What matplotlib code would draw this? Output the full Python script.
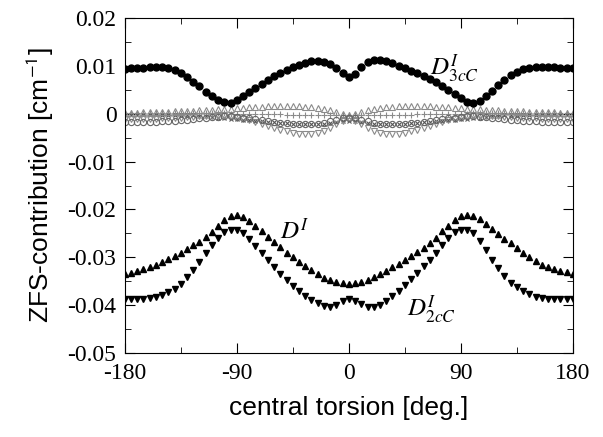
import numpy as np
import matplotlib as mpl
mpl.use('Agg')
import matplotlib.pyplot as plt
from matplotlib.ticker import MultipleLocator

mpl.rcParams['mathtext.fontset'] = 'stix'

# central torsion, 5 degree steps
torsion = np.arange(-180, 181, 5)

d3cc = [
	0.0093, 0.0095, 0.0095, 0.0096, 0.0097, 0.0098, 0.0097, 0.0095, 0.0091, 0.0085,
	0.0077, 0.0067, 0.0057, 0.0046, 0.0036, 0.0029, 0.0024, 0.0023, 0.0028, 0.0036,
	0.0045, 0.0054, 0.0063, 0.0071, 0.0078, 0.0085, 0.0091, 0.0097, 0.0102, 0.0106,
	0.0109, 0.0110, 0.0108, 0.0103, 0.0095, 0.0084, 0.0076,
	0.0083, 0.0097, 0.0107, 0.0112, 0.0112, 0.0109, 0.0105, 0.0100, 0.0095, 0.0090,
	0.0085, 0.0079, 0.0073, 0.0066, 0.0058, 0.0050, 0.0041, 0.0032, 0.0025, 0.0023,
	0.0027, 0.0036, 0.0048, 0.0060, 0.0071, 0.0080, 0.0088, 0.0093, 0.0096, 0.0098,
	0.0098, 0.0098, 0.0097, 0.0096, 0.0095, 0.0095,
]
d_total = [
	-0.0334, -0.0332, -0.0328, -0.0325, -0.0321, -0.0316, -0.0310, -0.0304, -0.0297, -0.0290,
	-0.0283, -0.0275, -0.0267, -0.0258, -0.0247, -0.0235, -0.0223, -0.0213, -0.0211, -0.0215,
	-0.0224, -0.0234, -0.0246, -0.0257, -0.0268, -0.0279, -0.0290, -0.0300, -0.0310, -0.0318,
	-0.0327, -0.0335, -0.0343, -0.0347, -0.0351, -0.0354, -0.0356,
	-0.0354, -0.0351, -0.0347, -0.0342, -0.0335, -0.0328, -0.0321, -0.0313, -0.0305, -0.0297,
	-0.0289, -0.0280, -0.0270, -0.0259, -0.0246, -0.0234, -0.0223, -0.0214, -0.0211, -0.0213,
	-0.0220, -0.0230, -0.0241, -0.0251, -0.0261, -0.0271, -0.0281, -0.0291, -0.0300, -0.0308,
	-0.0315, -0.0321, -0.0325, -0.0328, -0.0331, -0.0334,
]
d2cc = [
	-0.0388, -0.0388, -0.0388, -0.0387, -0.0385, -0.0382, -0.0378, -0.0373, -0.0366, -0.0356,
	-0.0342, -0.0326, -0.0310, -0.0292, -0.0275, -0.0259, -0.0248, -0.0243, -0.0243, -0.0250,
	-0.0262, -0.0277, -0.0291, -0.0306, -0.0321, -0.0335, -0.0348, -0.0360, -0.0371, -0.0381,
	-0.0389, -0.0396, -0.0401, -0.0403, -0.0400, -0.0392, -0.0386,
	-0.0392, -0.0398, -0.0403, -0.0403, -0.0400, -0.0391, -0.0381, -0.0370, -0.0358, -0.0346,
	-0.0333, -0.0319, -0.0305, -0.0290, -0.0274, -0.0260, -0.0248, -0.0243, -0.0243, -0.0250,
	-0.0265, -0.0285, -0.0305, -0.0323, -0.0340, -0.0353, -0.0363, -0.0371, -0.0377, -0.0382,
	-0.0385, -0.0387, -0.0388, -0.0388, -0.0388, -0.0388,
]

# small contributions near zero
small_circ = [
	-0.0018, -0.0018, -0.0018, -0.0018, -0.0017, -0.0017, -0.0016, -0.0016, -0.0015, -0.0014,
	-0.0013, -0.0012, -0.0010, -0.0009, -0.0007, -0.0006, -0.0005, -0.0005, -0.0006, -0.0008,
	-0.0010, -0.0012, -0.0014, -0.0016, -0.0018, -0.0019, -0.0020, -0.0021, -0.0022, -0.0022,
	-0.0022, -0.0021, -0.0019, -0.0016, -0.0013, -0.0010, -0.0009,
	-0.0010, -0.0013, -0.0016, -0.0019, -0.0021, -0.0022, -0.0022, -0.0022, -0.0021, -0.0020,
	-0.0019, -0.0018, -0.0016, -0.0014, -0.0012, -0.0010, -0.0008, -0.0006, -0.0005, -0.0005,
	-0.0006, -0.0007, -0.0009, -0.0010, -0.0012, -0.0013, -0.0014, -0.0015, -0.0016, -0.0016,
	-0.0017, -0.0017, -0.0018, -0.0018, -0.0018, -0.0018,
]
small_down = [
	-0.0012, -0.0012, -0.0012, -0.0012, -0.0011, -0.0011, -0.0010, -0.0010, -0.0009, -0.0008,
	-0.0007, -0.0006, -0.0005, -0.0004, -0.0004, -0.0004, -0.0005, -0.0006, -0.0008, -0.0011,
	-0.0014, -0.0018, -0.0022, -0.0026, -0.0030, -0.0034, -0.0037, -0.0040, -0.0042, -0.0043,
	-0.0043, -0.0041, -0.0037, -0.0030, -0.0022, -0.0015, -0.0012,
	-0.0015, -0.0022, -0.0030, -0.0037, -0.0041, -0.0043, -0.0043, -0.0042, -0.0040, -0.0037,
	-0.0034, -0.0030, -0.0026, -0.0022, -0.0018, -0.0014, -0.0011, -0.0008, -0.0006, -0.0005,
	-0.0004, -0.0004, -0.0004, -0.0005, -0.0006, -0.0007, -0.0008, -0.0009, -0.0010, -0.0010,
	-0.0011, -0.0011, -0.0012, -0.0012, -0.0012, -0.0012,
]
small_up = [
	0.0002, 0.0002, 0.0002, 0.0003, 0.0003, 0.0003, 0.0004, 0.0004, 0.0005, 0.0005,
	0.0006, 0.0006, 0.0007, 0.0007, 0.0008, 0.0009, 0.0010, 0.0010, 0.0011, 0.0012,
	0.0013, 0.0014, 0.0015, 0.0016, 0.0016, 0.0017, 0.0017, 0.0017, 0.0016, 0.0015,
	0.0014, 0.0012, 0.0010, 0.0007, 0.0003, -0.0001, -0.0003,
	-0.0001, 0.0003, 0.0007, 0.0010, 0.0012, 0.0014, 0.0015, 0.0016, 0.0017, 0.0017,
	0.0017, 0.0016, 0.0016, 0.0015, 0.0014, 0.0013, 0.0012, 0.0011, 0.0010, 0.0010,
	0.0009, 0.0008, 0.0007, 0.0007, 0.0006, 0.0006, 0.0005, 0.0005, 0.0004, 0.0004,
	0.0003, 0.0003, 0.0003, 0.0002, 0.0002, 0.0002,
]
small_plus = [
	0.0001, 0.0001, 0.0001, 0.0001, 0.0001, 0.0001, 0.0001, 0.0001, 0.0001, 0.0001,
	0.0001, 0.0001, 0.0001, 0.0001, 0.0001, 0.0001, 0.0001, 0.0000, 0.0000, 0.0000,
	0.0000, 0.0000, 0.0000, 0.0000, 0.0000, -0.0001, -0.0002, -0.0002, -0.0002, -0.0002,
	-0.0002, -0.0002, -0.0002, -0.0003, -0.0003, -0.0003, -0.0003,
	-0.0003, -0.0003, -0.0003, -0.0002, -0.0002, -0.0002, -0.0002, -0.0002, -0.0002, -0.0002,
	-0.0001, 0.0000, 0.0000, 0.0000, 0.0000, 0.0000, 0.0000, 0.0000, 0.0000, 0.0001,
	0.0001, 0.0001, 0.0001, 0.0001, 0.0001, 0.0001, 0.0001, 0.0001, 0.0001, 0.0001,
	0.0001, 0.0001, 0.0001, 0.0001, 0.0001, 0.0001,
]
small_dark = [
	-0.0002, -0.0002, -0.0002, -0.0002, -0.0002, -0.0002, -0.0002, -0.0002, -0.0002, -0.0002,
	-0.0002, -0.0003, -0.0004, -0.0005, -0.0006, -0.0008, -0.0010, -0.0011, -0.0012, -0.0013,
	-0.0014, -0.0015, -0.0016, -0.0017, -0.0018, -0.0019, -0.0020, -0.0021, -0.0022, -0.0022,
	-0.0022, -0.0022, -0.0022, -0.0020, -0.0018, -0.0016, -0.0015,
	-0.0016, -0.0018, -0.0020, -0.0022, -0.0022, -0.0022, -0.0022, -0.0022, -0.0021, -0.0020,
	-0.0019, -0.0018, -0.0017, -0.0016, -0.0015, -0.0014, -0.0013, -0.0012, -0.0011, -0.0010,
	-0.0008, -0.0006, -0.0005, -0.0004, -0.0003, -0.0002, -0.0002, -0.0002, -0.0002, -0.0002,
	-0.0002, -0.0002, -0.0002, -0.0002, -0.0002, -0.0002,
]

fig = plt.figure(figsize=(6.03, 4.37), dpi=100)
ax = fig.add_axes([0.207, 0.192, 0.743, 0.767])

grey = '#8a8a8a'
ax.plot(torsion, small_plus, '+', color=grey, ms=4, mew=0.8)
ax.plot(torsion, small_dark, 'x', color='#555555', ms=3, mew=0.8)
ax.plot(torsion, small_up, '^', mfc='none', mec=grey, ms=4.5, mew=0.8)
ax.plot(torsion, small_down, 'v', mfc='none', mec=grey, ms=4.5, mew=0.8)
ax.plot(torsion, small_circ, 'o', mfc='none', mec='#666666', ms=4.5, mew=0.8)

ax.plot(torsion, d3cc, 'o', color='black', ms=5)
ax.plot(torsion, d_total, '^', color='black', ms=4.5)
ax.plot(torsion, d2cc, 'v', color='black', ms=4.5)

ax.text(65, 0.0080, r'$D^{I}_{3cC}$', fontsize=18)
ax.text(-55, -0.0262, r'$D^{I}$', fontsize=18)
ax.text(47, -0.0423, r'$D^{I}_{2cC}$', fontsize=18)

ax.set_xlim(-180, 180)
ax.set_ylim(-0.05, 0.02)
ax.set_xticks([-180, -90, 0, 90, 180])
ax.xaxis.set_minor_locator(MultipleLocator(45))
ax.set_yticks([-0.05, -0.04, -0.03, -0.02, -0.01, 0, 0.01, 0.02])
ax.set_yticklabels(['-0.05', '-0.04', '-0.03', '-0.02', '-0.01', '0', '0.01', '0.02'])
ax.yaxis.set_minor_locator(MultipleLocator(0.005))
ax.set_xticklabels(['-180', '-90', '0', '90', '180'])
ax.tick_params(which='both', direction='in', top=True, right=True, labelsize=17)
ax.tick_params(which='major', length=7)
ax.tick_params(which='minor', length=4)
ax.tick_params(axis='x', pad=7)
ax.tick_params(axis='y', pad=6)
for lab in ax.get_xticklabels() + ax.get_yticklabels():
	lab.set_fontfamily('Liberation Serif')

ax.set_xlabel('central torsion [deg.]', fontsize=19, family='Liberation Sans', labelpad=9)
ax.set_ylabel(r'ZFS-contribution [cm$^{\mathsf{-1}}$]', fontsize=19, family='Liberation Sans', labelpad=8)

fig.savefig('out.png', dpi=100)
